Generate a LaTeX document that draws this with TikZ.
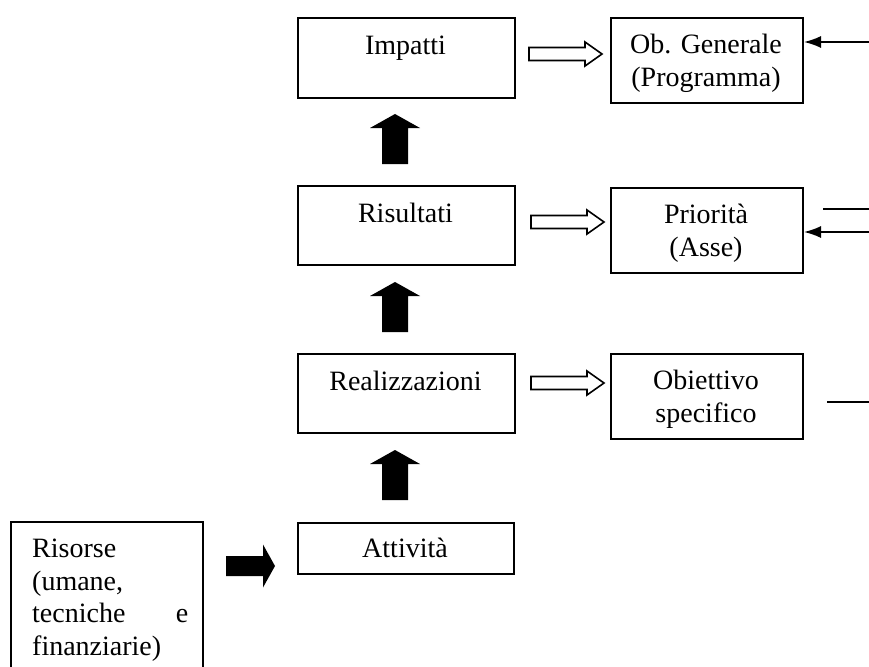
\documentclass[tikz,border=0pt]{standalone}
\usepackage{fontspec}
\setmainfont{Liberation Serif}
\usetikzlibrary{calc,arrows.meta}
\tikzset{
  box/.style={draw, line width=2pt, inner sep=0pt, anchor=north west},
  txt/.style={inner sep=0pt, anchor=north, align=center, font=\fontsize{28}{33}\selectfont},
  hollow/.style={draw, fill=white, line width=1.6pt, line join=miter},
  thinline/.style={line width=1.6pt},
  thinarrow/.style={line width=1.6pt, -{Latex[length=17pt,width=12pt]}},
  hollowarrow/.pic={\path[hollow] (0,-6.5) -- (56,-6.5) -- (56,-12) -- (73,0) -- (56,12) -- (56,6.5) -- (0,6.5) -- cycle;},
  uparrow/.pic={\fill (0,0) -- (25,14) -- (13,14) -- (13,50) -- (-13,50) -- (-13,14) -- (-25,14) -- cycle;},
  rightarrow/.pic={\fill (0,0) -- (-12,-21.5) -- (-12,-10) -- (-49,-10) -- (-49,10) -- (-12,10) -- (-12,21.5) -- cycle;}
}
\begin{document}
\begin{tikzpicture}[x=1pt,y=-1pt]
\useasboundingbox (0,0) rectangle (869,666);
\clip (0,0) rectangle (869,666);
\fill[white] (0,0) rectangle (869,666);

% left column boxes
\node[box, minimum width=217pt, minimum height=80pt] (imp) at (297,17) {};
\node[box, minimum width=217pt, minimum height=79pt] (ris) at (297,185) {};
\node[box, minimum width=217pt, minimum height=79pt] (rea) at (297,353) {};
\node[box, minimum width=216pt, minimum height=51pt] (att) at (297,522) {};
\node[box, minimum width=192pt, minimum height=200pt] (rso) at (10,521) {};

% right column boxes
\node[box, minimum width=192pt, minimum height=85pt] (gen) at (610,17) {};
\node[box, minimum width=192pt, minimum height=85pt] (pri) at (610,187) {};
\node[box, minimum width=192pt, minimum height=85pt] (obs) at (610,353) {};

% texts
\node[txt] (impT) at (405.5,30.9) {\strut Impatti};
\node[txt] (risT) at (405.5,198.9) {\strut Risultati};
\node[txt] (reaT) at (405.5,366.9) {\strut Realizzazioni};
\node[txt] (attT) at (405,533.9) {\strut Attività};
\node[txt] (genT) at (706,29.9) {\strut Ob. Generale\\(Programma)};
\node[txt] (priT) at (706,199.9) {\strut Priorità\\(Asse)};
\node[txt] (obsT) at (706,365.9) {\strut Obiettivo\\specifico};
\node[inner sep=0pt, anchor=north west, align=left, text width=156pt,
      font=\fontsize{28}{32.5}\selectfont] (rsoT) at (32,534.9)
  {\strut Risorse\\(umane,\\tecniche\hfill e\\finanziarie)};

% hollow arrows
\pic at ($(imp.east)+(13,-4)$) {hollowarrow};
\pic at ($(ris.east)+(15,-3.5)$) {hollowarrow};
\pic at ($(rea.east)+(15,-10.5)$) {hollowarrow};

% black up arrows
\pic at ($(imp.south)+(-11.5,15)$) {uparrow};
\pic at ($(ris.south)+(-11.5,16)$) {uparrow};
\pic at ($(rea.south)+(-11.5,16)$) {uparrow};

% black right arrow
\pic at ($(att.west)+(-22,17.5)$) {rightarrow};

% right side connectors
\coordinate (c1) at (869,42);
\draw[thinarrow] (c1) -- (c1 -| gen.east);
\coordinate (c2a) at (823,209);
\coordinate (c2b) at (869,209);
\draw[thinline] (c2a) -- (c2b);
\coordinate (c3) at (869,232);
\draw[thinarrow] (c3) -- (c3 -| pri.east);
\coordinate (c4a) at (827,402);
\coordinate (c4b) at (869,402);
\draw[thinline] (c4a) -- (c4b);
\end{tikzpicture}
\end{document}
